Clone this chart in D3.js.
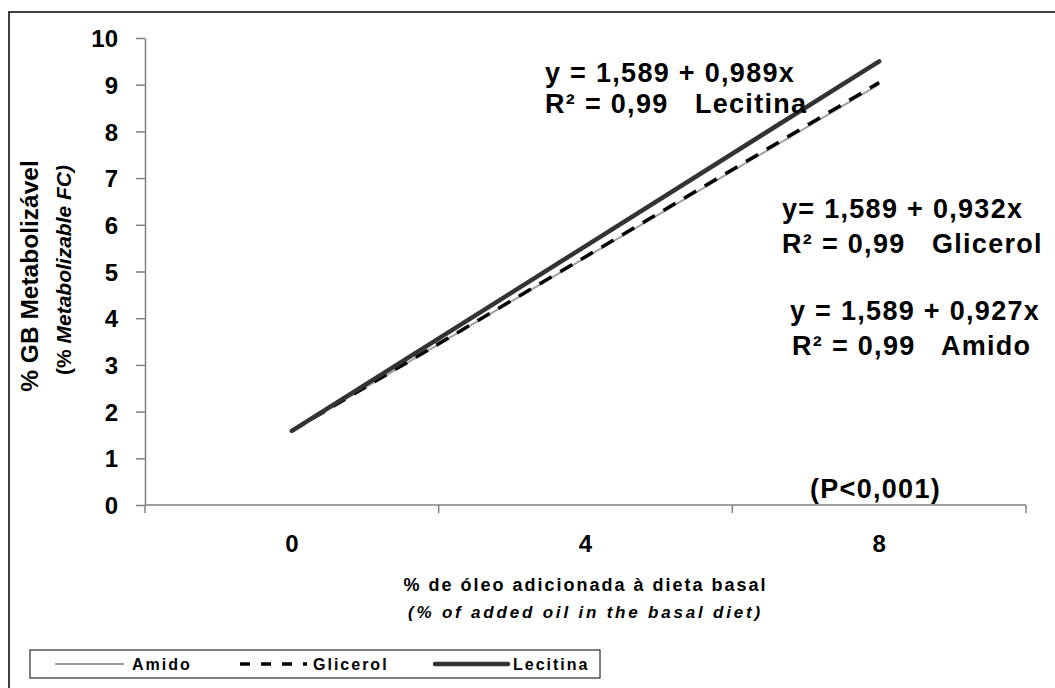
<!DOCTYPE html>
<html>
<head>
  <meta charset="utf-8">
  <title>GB Metabolizável</title>
  <script src="https://cdnjs.cloudflare.com/ajax/libs/d3/7.8.5/d3.min.js"></script>
  <style>
    body { margin: 0; background: #fff; }
    svg { font-family: "Liberation Sans", Arial, sans-serif; font-weight: bold; }
    .axis path, .axis line { stroke: #808080; stroke-width: 1.5; }
    .axis text { font-size: 24px; font-weight: bold; fill: #000; font-family: "Liberation Sans", Arial, sans-serif; }
    .note { font-size: 27px; letter-spacing: 1.3px; white-space: pre; }
  </style>
</head>
<body>
<div id="chart"></div>
<script>
  // doses of added oil (%)
  var categories = ["0", "4", "8"];
  var amido    = [1.589, 5.297, 9.005];
  var glicerol = [1.589, 5.317, 9.045];
  var lecitina = [1.589, 5.545, 9.501];
  var yTicks = [0, 1, 2, 3, 4, 5, 6, 7, 8, 9, 10];

  var W = 1055, H = 688;
  var margin = {top: 38, right: 29, bottom: 183, left: 145};

  var svg = d3.select("#chart").append("svg")
      .attr("width", W)
      .attr("height", H);

  // outer frame
  svg.append("rect")
      .attr("x", 9).attr("y", 12)
      .attr("width", W + 10).attr("height", H + 10)
      .attr("fill", "none")
      .attr("stroke", "#000")
      .attr("stroke-width", 1.5);

  var x = d3.scaleBand()
      .domain(categories)
      .range([margin.left, W - margin.right])
      .padding(0);

  var y = d3.scaleLinear()
      .domain([0, 10])
      .range([H - margin.bottom, margin.top]);

  // x axis: ticks between categories
  var xg = svg.append("g")
      .attr("class", "axis")
      .attr("transform", "translate(0," + y(0) + ")");
  xg.append("line")
      .attr("x1", x.range()[0]).attr("x2", x.range()[1]);
  var bounds = categories.map(c => x(c)).concat([x.range()[1]]);
  xg.selectAll(".tk").data(bounds).enter().append("line")
      .attr("x1", d => d).attr("x2", d => d)
      .attr("y1", 0).attr("y2", 8);
  xg.selectAll("text").data(categories).enter().append("text")
      .attr("x", d => x(d) + x.bandwidth() / 2)
      .attr("y", 47)
      .attr("text-anchor", "middle")
      .text(d => d);

  // y axis
  svg.append("g")
      .attr("class", "axis")
      .attr("transform", "translate(" + margin.left + ",0)")
      .call(d3.axisLeft(y).tickValues(yTicks).tickSize(9).tickSizeOuter(0).tickPadding(18))
      .call(g => g.selectAll("text").attr("dy", "0.36em"));

  var line = d3.line()
      .x((d, i) => x(categories[i]) + x.bandwidth() / 2)
      .y(d => y(d));

  svg.append("path").datum(amido)
      .attr("fill", "none").attr("stroke", "#a0a0a0").attr("stroke-width", 2)
      .attr("d", line);
  svg.append("path").datum(glicerol)
      .attr("fill", "none").attr("stroke", "#000").attr("stroke-width", 3.5)
      .attr("stroke-dasharray", "14,10")
      .attr("d", line);
  svg.append("path").datum(lecitina)
      .attr("fill", "none").attr("stroke", "#333").attr("stroke-width", 4.5)
      .attr("stroke-linecap", "round")
      .attr("d", line);

  // regression notes
  var notes = [
    {t: "y = 1,589 + 0,989x", x: 545, y: 82},
    {t: "R² = 0,99   Lecitina", x: 545, y: 113},
    {t: "y= 1,589 + 0,932x", x: 782, y: 218},
    {t: "R² = 0,99   Glicerol", x: 782, y: 253},
    {t: "y = 1,589 + 0,927x", x: 790, y: 320},
    {t: "R² = 0,99   Amido", x: 792, y: 355},
    {t: "(P<0,001)", x: 810, y: 498}
  ];
  svg.selectAll(".note").data(notes).enter().append("text")
      .attr("class", "note")
      .attr("x", d => d.x).attr("y", d => d.y)
      .text(d => d.t);

  // axis titles
  var cx = (x.range()[0] + x.range()[1]) / 2;
  svg.append("text")
      .attr("x", cx).attr("y", 591)
      .attr("text-anchor", "middle")
      .style("font-size", "18px").style("letter-spacing", "2px")
      .text("% de óleo adicionada à dieta basal");
  svg.append("text")
      .attr("x", cx).attr("y", 618)
      .attr("text-anchor", "middle")
      .style("font-size", "17px").style("letter-spacing", "2.8px")
      .style("font-style", "italic")
      .text("(% of added oil in the basal diet)");

  svg.append("text")
      .attr("transform", "translate(38,276) rotate(-90)")
      .attr("text-anchor", "middle")
      .style("font-size", "24.5px")
      .text("% GB Metabolizável");
  var yt2 = svg.append("text")
      .attr("transform", "translate(71,270) rotate(-90)")
      .attr("text-anchor", "middle")
      .style("font-size", "21px");
  yt2.append("tspan").text("(% ");
  yt2.append("tspan").style("font-style", "italic").text("Metabolizable FC)");

  // legend
  var lg = svg.append("g");
  lg.append("rect")
      .attr("x", 30).attr("y", 650).attr("width", 570).attr("height", 28)
      .attr("fill", "#fff").attr("stroke", "#000").attr("stroke-width", 1);
  var legend = [
    {name: "Amido", x1: 55, x2: 124, tx: 132, stroke: "#a0a0a0", w: 2, dash: null},
    {name: "Glicerol", x1: 240, x2: 307, tx: 313, stroke: "#000", w: 3.5, dash: "10,11"},
    {name: "Lecitina", x1: 435, x2: 508, tx: 513, stroke: "#333", w: 4.5, dash: null}
  ];
  legend.forEach(function (d) {
    lg.append("line")
        .attr("x1", d.x1).attr("x2", d.x2).attr("y1", 664).attr("y2", 664)
        .attr("stroke", d.stroke).attr("stroke-width", d.w)
        .attr("stroke-dasharray", d.dash)
        .attr("stroke-linecap", d.name === "Lecitina" ? "round" : "butt");
    lg.append("text")
        .attr("x", d.tx).attr("y", 670)
        .style("font-size", "16px").style("letter-spacing", "2px")
        .text(d.name);
  });
</script>
</body>
</html>
